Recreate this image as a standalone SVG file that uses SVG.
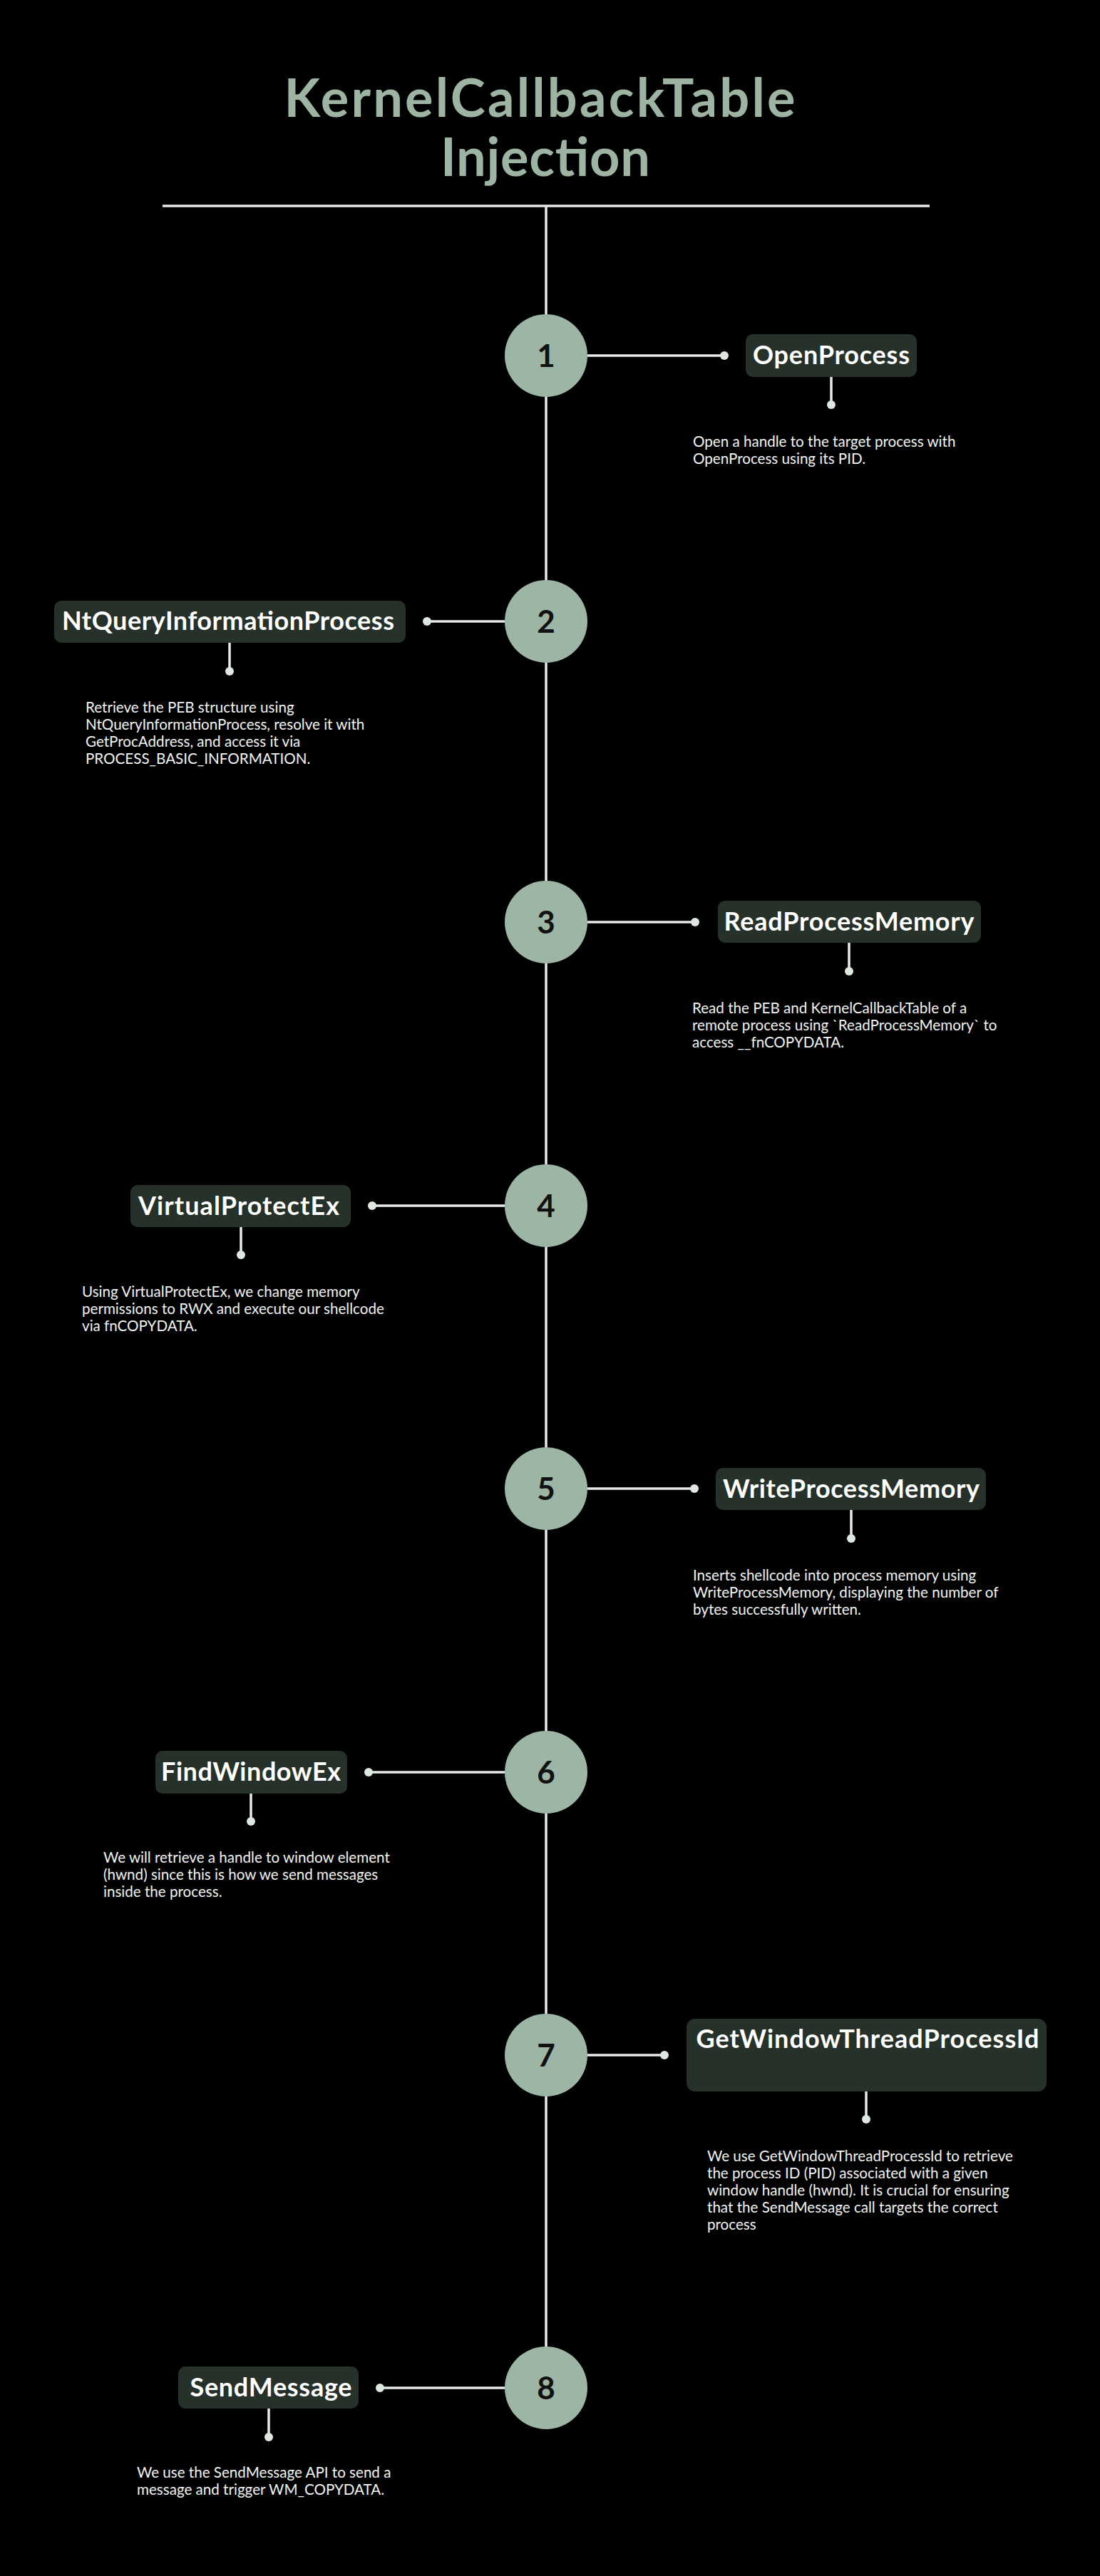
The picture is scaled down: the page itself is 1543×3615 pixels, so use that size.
<svg xmlns="http://www.w3.org/2000/svg" width="1543" height="3615" viewBox="0 0 1543 3615">
<style>
.title{font-family:Lato,"Liberation Sans",sans-serif;font-weight:700;font-size:74px;fill:#9db4a2;text-anchor:middle}
.step circle{fill:#9db5a4}
.num{font-family:Lato,"Liberation Sans",sans-serif;font-weight:700;font-size:44px;fill:#111;text-anchor:middle}
.box{fill:#263129}
.lbl{font-family:Lato,"Liberation Sans",sans-serif;font-weight:700;font-size:36px;fill:#ffffff;text-anchor:middle}
.desc{font-family:Lato,"Liberation Sans",sans-serif;font-size:20.6px;fill:#f2f4f2}
.ln{stroke:#e6ebe7;stroke-width:3.5;fill:none}
.dot{fill:#dfe7e1}
</style>
<rect width="1543" height="3615" fill="#000"/>
<g id="title">
<text class="title" x="757" y="164" textLength="717">KernelCallbackTable</text>
<text class="title" x="765" y="247" textLength="294">Injection</text>
</g>
<g id="connectors">
<line class="ln" x1="228" y1="289" x2="1304" y2="289" stroke-width="4"/>
<line class="ln" x1="766" y1="289" x2="766" y2="3351"/>
<line class="ln" x1="824" y1="499" x2="1016" y2="499"/><circle class="dot" cx="1016" cy="499" r="6"/>
<line class="ln" x1="1166" y1="529" x2="1166" y2="568"/><circle class="dot" cx="1166" cy="568" r="6"/>
<line class="ln" x1="599" y1="872" x2="708" y2="872"/><circle class="dot" cx="599" cy="872" r="6"/>
<line class="ln" x1="322" y1="902" x2="322" y2="942"/><circle class="dot" cx="322" cy="942" r="6"/>
<line class="ln" x1="824" y1="1294" x2="975" y2="1294"/><circle class="dot" cx="975" cy="1294" r="6"/>
<line class="ln" x1="1191" y1="1323" x2="1191" y2="1363"/><circle class="dot" cx="1191" cy="1363" r="6"/>
<line class="ln" x1="522" y1="1692" x2="708" y2="1692"/><circle class="dot" cx="522" cy="1692" r="6"/>
<line class="ln" x1="338" y1="1722" x2="338" y2="1761"/><circle class="dot" cx="338" cy="1761" r="6"/>
<line class="ln" x1="824" y1="2089" x2="974" y2="2089"/><circle class="dot" cx="974" cy="2089" r="6"/>
<line class="ln" x1="1194" y1="2119" x2="1194" y2="2159"/><circle class="dot" cx="1194" cy="2159" r="6"/>
<line class="ln" x1="517" y1="2487" x2="708" y2="2487"/><circle class="dot" cx="517" cy="2487" r="6"/>
<line class="ln" x1="352" y1="2517" x2="352" y2="2556"/><circle class="dot" cx="352" cy="2556" r="6"/>
<line class="ln" x1="824" y1="2884" x2="932" y2="2884"/><circle class="dot" cx="932" cy="2884" r="6"/>
<line class="ln" x1="1215" y1="2935" x2="1215" y2="2974"/><circle class="dot" cx="1215" cy="2974" r="6"/>
<line class="ln" x1="533" y1="3351" x2="708" y2="3351"/><circle class="dot" cx="533" cy="3351" r="6"/>
<line class="ln" x1="377" y1="3380" x2="377" y2="3420"/><circle class="dot" cx="377" cy="3420" r="6"/>
</g>
<g id="step1" class="step">
<circle cx="766" cy="499" r="58"/><text class="num" x="766" y="515">1</text>
<rect class="box" x="1046" y="469" width="240" height="60" rx="10"/>
<text class="lbl" x="1166" y="511" textLength="220">OpenProcess</text>
<text class="desc" x="972" y="627">Open a handle to the target process with</text>
<text class="desc" x="972" y="651">OpenProcess using its PID.</text>
</g>
<g id="step2" class="step">
<circle cx="766" cy="872" r="58"/><text class="num" x="766" y="888">2</text>
<rect class="box" x="76" y="843" width="493" height="59" rx="10"/>
<text class="lbl" x="320" y="884" textLength="466">NtQueryInformationProcess</text>
<text class="desc" x="120" y="1000">Retrieve the PEB structure using</text>
<text class="desc" x="120" y="1024">NtQueryInformationProcess, resolve it with</text>
<text class="desc" x="120" y="1048">GetProcAddress, and access it via</text>
<text class="desc" x="120" y="1072">PROCESS_BASIC_INFORMATION.</text>
</g>
<g id="step3" class="step">
<circle cx="766" cy="1294" r="58"/><text class="num" x="766" y="1310">3</text>
<rect class="box" x="1007" y="1264" width="369" height="59" rx="10"/>
<text class="lbl" x="1191" y="1306" textLength="351">ReadProcessMemory</text>
<text class="desc" x="971" y="1422">Read the PEB and KernelCallbackTable of a</text>
<text class="desc" x="971" y="1446">remote process using `ReadProcessMemory` to</text>
<text class="desc" x="971" y="1470">access __fnCOPYDATA.</text>
</g>
<g id="step4" class="step">
<circle cx="766" cy="1692" r="58"/><text class="num" x="766" y="1708">4</text>
<rect class="box" x="183" y="1663" width="309" height="59" rx="10"/>
<text class="lbl" x="335" y="1705" textLength="282">VirtualProtectEx</text>
<text class="desc" x="115" y="1820">Using VirtualProtectEx, we change memory</text>
<text class="desc" x="115" y="1844">permissions to RWX and execute our shellcode</text>
<text class="desc" x="115" y="1868">via fnCOPYDATA.</text>
</g>
<g id="step5" class="step">
<circle cx="766" cy="2089" r="58"/><text class="num" x="766" y="2105">5</text>
<rect class="box" x="1004" y="2060" width="379" height="59" rx="10"/>
<text class="lbl" x="1194" y="2102" textLength="360">WriteProcessMemory</text>
<text class="desc" x="972" y="2218">Inserts shellcode into process memory using</text>
<text class="desc" x="972" y="2242">WriteProcessMemory, displaying the number of</text>
<text class="desc" x="972" y="2266">bytes successfully written.</text>
</g>
<g id="step6" class="step">
<circle cx="766" cy="2487" r="58"/><text class="num" x="766" y="2503">6</text>
<rect class="box" x="218" y="2457" width="269" height="60" rx="10"/>
<text class="lbl" x="352" y="2499" textLength="252">FindWindowEx</text>
<text class="desc" x="145" y="2614">We will retrieve a handle to window element</text>
<text class="desc" x="145" y="2638">(hwnd) since this is how we send messages</text>
<text class="desc" x="145" y="2662">inside the process.</text>
</g>
<g id="step7" class="step">
<circle cx="766" cy="2884" r="58"/><text class="num" x="766" y="2900">7</text>
<rect class="box" x="963" y="2833" width="505" height="102" rx="12"/>
<text class="lbl" x="1217" y="2874" textLength="481">GetWindowThreadProcessId</text>
<text class="desc" x="992" y="3033">We use GetWindowThreadProcessId to retrieve</text>
<text class="desc" x="992" y="3057">the process ID (PID) associated with a given</text>
<text class="desc" x="992" y="3081">window handle (hwnd). It is crucial for ensuring</text>
<text class="desc" x="992" y="3105">that the SendMessage call targets the correct</text>
<text class="desc" x="992" y="3129">process</text>
</g>
<g id="step8" class="step">
<circle cx="766" cy="3351" r="58"/><text class="num" x="766" y="3367">8</text>
<rect class="box" x="250" y="3321" width="253" height="59" rx="10"/>
<text class="lbl" x="380" y="3363" textLength="227">SendMessage</text>
<text class="desc" x="192" y="3477">We use the SendMessage API to send a</text>
<text class="desc" x="192" y="3501">message and trigger WM_COPYDATA.</text>
</g>
</svg>
